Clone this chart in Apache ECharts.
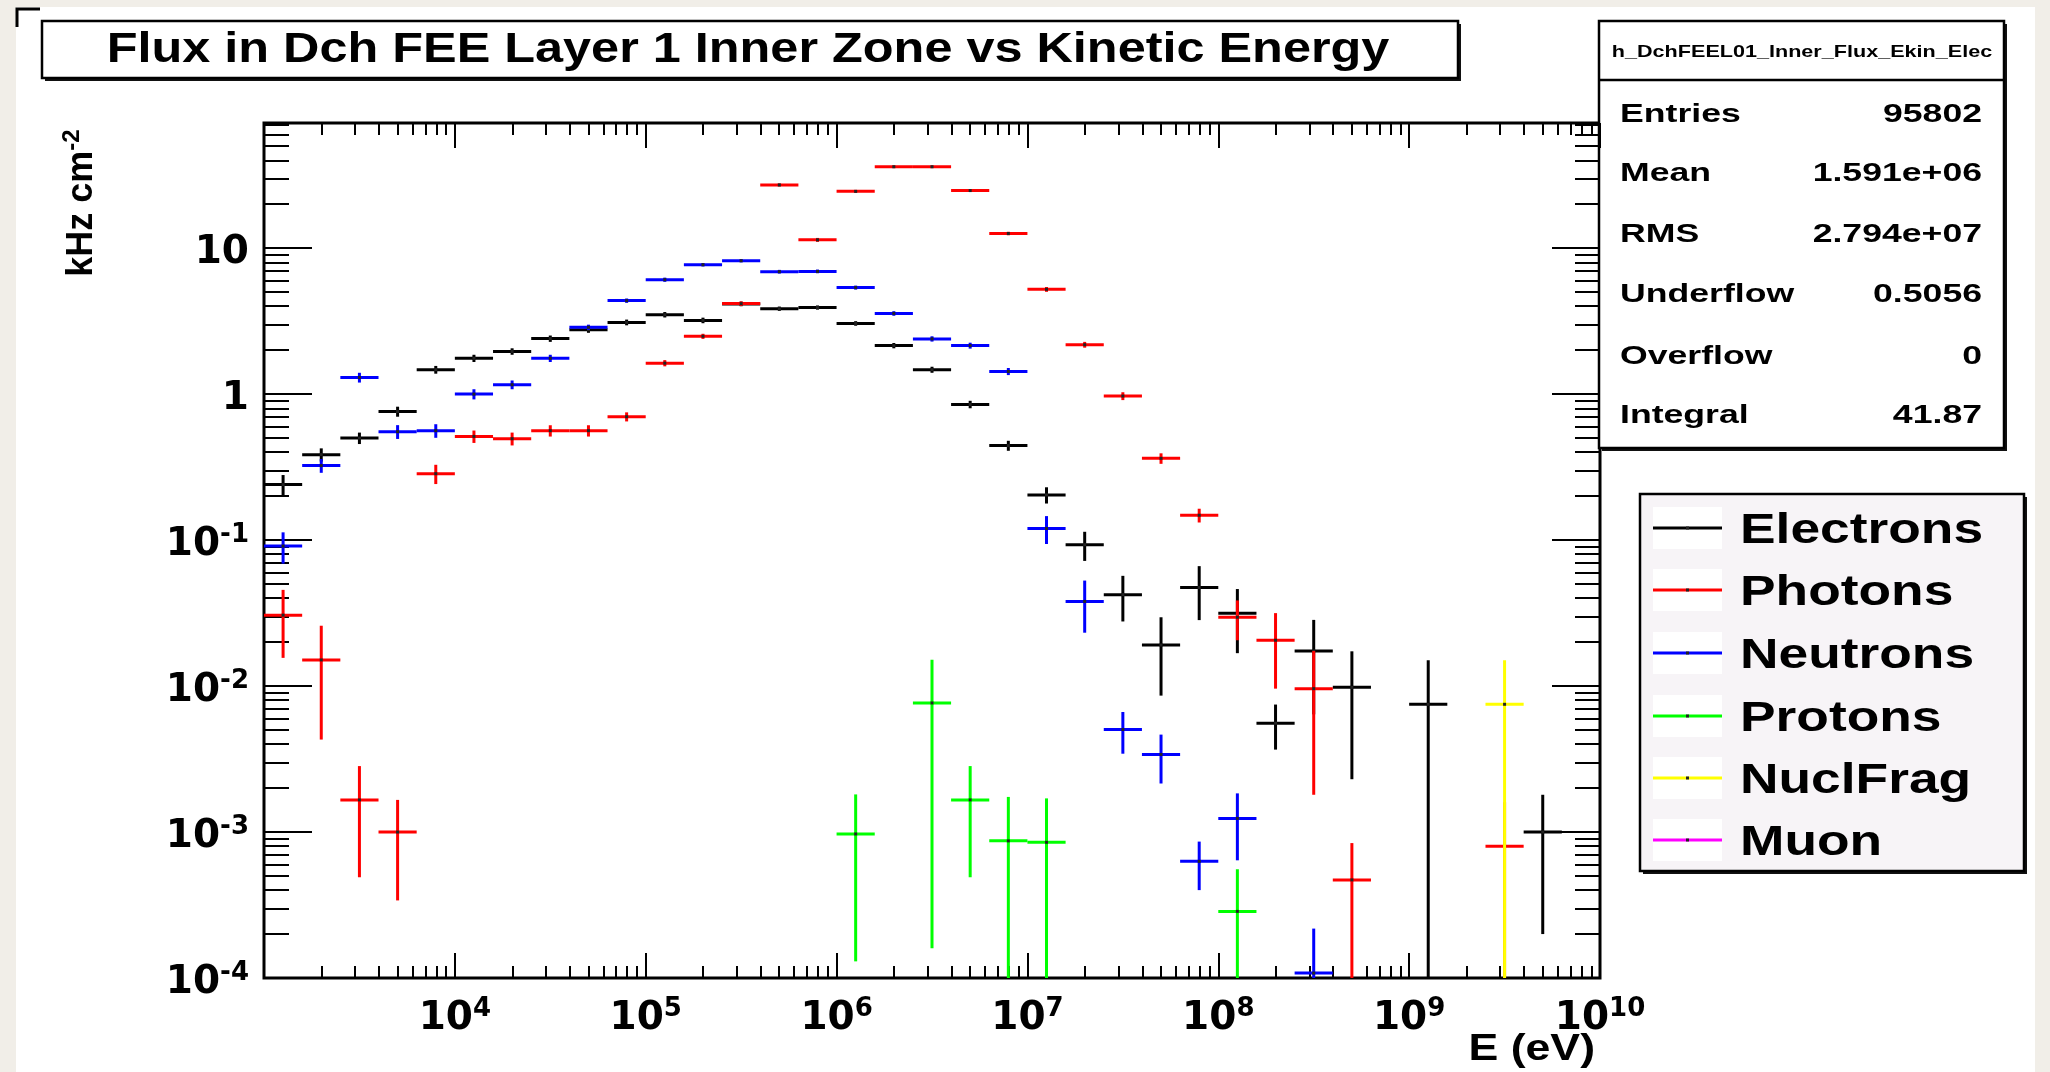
<!DOCTYPE html>
<html>
<head>
<meta charset="utf-8">
<script src="https://cdn.jsdelivr.net/npm/echarts@6/dist/echarts.min.js"></script>
<style>
  html, body { margin: 0; padding: 0; background: #f1eee8; }
  #chart { width: 2050px; height: 1072px; }
</style>
</head>
<body>
<div id="chart"></div>
<script>
// ---- Histogram binning: 5 log-uniform bins per decade, 1e3 .. 1e10 eV ----
const BIN_LOW_EXP = 3;
const BINS_PER_DECADE = 5;
const BIN_COUNT = 35;

// ---- Axis ranges ----
const X_MIN = 1e3, X_MAX = 1e10;
const Y_MIN = 1e-4, Y_MAX = 72;

// ---- Tick label values ----
const xMajorTicks = [1e3, 1e4, 1e5, 1e6, 1e7, 1e8, 1e9, 1e10];
const xLabelValues = [1e4, 1e5, 1e6, 1e7, 1e8, 1e9, 1e10];
const yMajorTicks = [1e-4, 1e-3, 1e-2, 1e-1, 1, 10];
const yLabelValues = [1e-4, 1e-3, 1e-2, 1e-1, 1, 10];

// ---- Flux per bin (kHz cm^-2), null = empty bin ----
const electrons = [0.24, 0.385, 0.50, 0.76, 1.47, 1.76, 1.96, 2.4, 2.76, 3.1,
  3.5, 3.2, 4.15, 3.85, 3.92, 3.05, 2.15, 1.47, 0.85, 0.444,
  0.204, 0.093, 0.0423, 0.0191, 0.0473, 0.0315, 0.00557, 0.0174, 0.0098, null,
  0.0075, null, null, 0.001, null];
const electronsErr = [0.039, 0.04, 0.045, 0.06, 0.09, 0.1, 0.1, 0.12, 0.13, 0.14,
  0.15, 0.14, 0.15, 0.13, 0.13, 0.11, 0.09, 0.07, 0.05, 0.035,
  0.026, 0.021, 0.0146, 0.0105, 0.019, 0.0147, 0.0019, 0.011, 0.0075, null,
  0.0075, null, null, 0.0008, null];

const photons = [0.0306, 0.0151, 0.00166, 0.001, 0.285, 0.513, 0.495, 0.562, 0.562, 0.70,
  1.63, 2.49, 4.17, 27.1, 11.4, 24.5, 36.1, 36.1, 24.8, 12.6,
  5.22, 2.18, 0.97, 0.363, 0.148, 0.0296, 0.0206, 0.0096, 0.00047, null,
  null, null, 0.0008, null, null];
const photonsErr = [0.015, 0.0108, 0.00117, 0.00066, 0.043, 0.05, 0.05, 0.05, 0.05, 0.05,
  0.08, 0.1, 0.15, 0.6, 0.35, 0.5, 0.6, 0.6, 0.5, 0.35,
  0.2, 0.1, 0.06, 0.03, 0.016, 0.009, 0.011, 0.0078, 0.00037, null,
  null, null, 0.0008, null, null];

const neutrons = [0.091, 0.324, 1.30, 0.553, 0.562, 1.0, 1.16, 1.76, 2.87, 4.37,
  6.08, 7.7, 8.2, 6.9, 6.93, 5.37, 3.57, 2.39, 2.15, 1.43,
  0.12, 0.038, 0.00504, 0.0034, 0.00063, 0.00124, null, 0.000108, null, null,
  null, null, null, null, null];
const neutronsErr = [0.022, 0.035, 0.1, 0.06, 0.06, 0.08, 0.08, 0.1, 0.12, 0.15,
  0.2, 0.2, 0.2, 0.2, 0.2, 0.17, 0.13, 0.1, 0.1, 0.08,
  0.026, 0.0148, 0.0016, 0.00125, 0.00023, 0.0006, null, 0.00011, null, null,
  null, null, null, null, null];

const protons = [null, null, null, null, null, null, null, null, null, null,
  null, null, null, null, null, 0.00097, null, 0.00766, 0.00166, 0.00087,
  0.00085, null, null, null, null, 0.000286, null, null, null, null,
  null, null, null, null, null];
const protonsErr = [null, null, null, null, null, null, null, null, null, null,
  null, null, null, null, null, 0.00084, null, 0.0075, 0.00117, 0.00087,
  0.00085, null, null, null, null, 0.00027, null, null, null, null,
  null, null, null, null, null];

const nuclFrag = [null, null, null, null, null, null, null, null, null, null,
  null, null, null, null, null, null, null, null, null, null,
  null, null, null, null, null, null, null, null, null, null,
  null, null, 0.0075, null, null];
const nuclFragErr = [null, null, null, null, null, null, null, null, null, null,
  null, null, null, null, null, null, null, null, null, null,
  null, null, null, null, null, null, null, null, null, null,
  null, null, 0.0075, null, null];

const muons = new Array(BIN_COUNT).fill(null);
const muonsErr = new Array(BIN_COUNT).fill(null);

const particleNames = ['Electrons', 'Photons', 'Neutrons', 'Protons', 'NuclFrag', 'Muon'];
const particleColors = ['#000000', '#ff0000', '#0000ff', '#00ff00', '#ffff00', '#ff00ff'];
const particleValues = [electrons, photons, neutrons, protons, nuclFrag, muons];
const particleErrors = [electronsErr, photonsErr, neutronsErr, protonsErr, nuclFragErr, muonsErr];

// ---- Stats box ----
const statsTitle = 'h_DchFEEL01_Inner_Flux_Ekin_Elec';
const statsLabels = ['Entries', 'Mean', 'RMS', 'Underflow', 'Overflow', 'Integral'];
const statsValues = ['95802', '1.591e+06', '2.794e+07', '0.5056', '0', '41.87'];

// ---------------------------------------------------------------
const binEdges = [];
for (let i = 0; i <= BIN_COUNT; i++) {
  binEdges.push(Math.pow(10, BIN_LOW_EXP + i / BINS_PER_DECADE));
}

function minorTicksBetween(lo, hi) {
  const out = [];
  for (let d = Math.floor(Math.log10(lo)); d <= Math.ceil(Math.log10(hi)); d++) {
    for (let m = 2; m <= 9; m++) {
      const v = m * Math.pow(10, d);
      if (v > lo && v < hi) out.push(v);
    }
  }
  return out;
}
const xMinorTicks = minorTicksBetween(X_MIN, X_MAX);
const yMinorTicks = minorTicksBetween(Y_MIN, Y_MAX);

function buildBins(values, errors) {
  const out = [];
  values.forEach((v, k) => {
    if (v == null) return;
    out.push([binEdges[k], binEdges[k + 1], v, errors[k] || 0]);
  });
  return out;
}

function binRenderer(color) {
  return function (params, api) {
    const lo = api.value(0), hi = api.value(1), v = api.value(2), e = api.value(3);
    const xc = Math.sqrt(lo * hi);
    const pL = api.coord([lo, v]);
    const pR = api.coord([hi, v]);
    const pC = api.coord([xc, v]);
    const pT = api.coord([xc, Math.min(v + e, Y_MAX)]);
    const pB = api.coord([xc, Math.max(v - e, Y_MIN)]);
    return {
      type: 'group',
      children: [
        { type: 'line', shape: { x1: pL[0], y1: pL[1], x2: pR[0], y2: pR[1] },
          style: { stroke: color, lineWidth: 3 } },
        { type: 'line', shape: { x1: pT[0], y1: pT[1], x2: pB[0], y2: pB[1] },
          style: { stroke: color, lineWidth: 3 } },
        { type: 'rect', shape: { x: pC[0] - 1.5, y: pC[1] - 1.5, width: 3, height: 3 },
          style: { fill: '#222' } }
      ]
    };
  };
}

function powerLabel(v) {
  const n = Math.round(Math.log10(v));
  if (n === 0) return '{b|1}';
  if (n === 1) return '{b|10}';
  return '{b|10}{e|' + n + '}';
}

const labelRich = {
  b: { fontFamily: 'DejaVu Sans', fontWeight: 'bold', fontSize: 39, color: '#000', lineHeight: 46 },
  e: { fontFamily: 'DejaVu Sans', fontWeight: 'bold', fontSize: 26, color: '#000', lineHeight: 24, verticalAlign: 'top' }
};

const tickLine = { color: '#000', width: 2 };

function xAxisDef(position, ticks, len, labels) {
  return {
    type: 'log', logBase: 10, min: X_MIN, max: X_MAX, gridIndex: 0, position,
    axisLine: { show: false }, splitLine: { show: false }, minorTick: { show: false },
    axisTick: { show: true, inside: true, length: len, customValues: ticks, lineStyle: tickLine },
    axisLabel: labels ? {
      show: true, customValues: labels, margin: 18, formatter: powerLabel,
      showMinLabel: true, showMaxLabel: true, rich: labelRich
    } : { show: false }
  };
}
function yAxisDef(position, ticks, len, labels) {
  return {
    type: 'log', logBase: 10, min: Y_MIN, max: Y_MAX, gridIndex: 0, position,
    axisLine: { show: false }, splitLine: { show: false }, minorTick: { show: false },
    axisTick: { show: true, inside: true, length: len, customValues: ticks, lineStyle: tickLine },
    axisLabel: labels ? {
      show: true, customValues: labels, margin: 15, formatter: powerLabel,
      padding: [10, 0, 0, 0], align: 'right',
      showMinLabel: true, showMaxLabel: true, rich: labelRich
    } : { show: false }
  };
}

const series = [];
for (let i = 0; i < 5; i++) {
  series.push({
    type: 'custom', name: particleNames[i], coordinateSystem: 'cartesian2d',
    xAxisIndex: 0, yAxisIndex: 0, silent: true, clip: true, z: 3 + i,
    encode: { x: [0, 1], y: 2 },
    renderItem: binRenderer(particleColors[i]),
    data: buildBins(particleValues[i], particleErrors[i])
  });
}

// ---- Decorations: canvas, title box, stats box, legend ----
const boldFont = 'Liberation Sans';
const graphics = [
  { type: 'rect', z: -10, shape: { x: 16, y: 7, width: 2019, height: 1065 }, style: { fill: '#ffffff' } },
  { type: 'polyline', shape: { points: [[40, 9], [17, 9], [17, 27]] }, style: { stroke: '#000', lineWidth: 3, fill: null } },
  // title
  { type: 'rect', shape: { x: 45, y: 24, width: 1416, height: 57 }, style: { fill: '#111' } },
  { type: 'rect', shape: { x: 42, y: 21, width: 1416, height: 57 }, style: { fill: '#fff', stroke: '#000', lineWidth: 2.5 } },
  { type: 'text', x: 748, y: 50, scaleX: 1.2,
    style: { text: 'Flux in Dch FEE Layer 1 Inner Zone vs Kinetic Energy', fontFamily: boldFont, fontWeight: 'bold',
      fontSize: 42, fill: '#000', align: 'center', verticalAlign: 'middle', textAlign: 'center', textVerticalAlign: 'middle' } },
  // stats box
  { type: 'rect', shape: { x: 1602, y: 24, width: 405, height: 427 }, style: { fill: '#111' } },
  { type: 'rect', shape: { x: 1599, y: 21, width: 405, height: 427 }, style: { fill: '#fff', stroke: '#000', lineWidth: 2.5 } },
  { type: 'line', shape: { x1: 1599, y1: 80, x2: 2004, y2: 80 }, style: { stroke: '#000', lineWidth: 2.5 } },
  { type: 'text', x: 1802, y: 52, scaleX: 1.27,
    style: { text: statsTitle, fontFamily: boldFont, fontWeight: 'bold', fontSize: 17, fill: '#000',
      align: 'center', verticalAlign: 'middle', textAlign: 'center', textVerticalAlign: 'middle' } },
  // axis titles
  { type: 'text', x: 1595, y: 1050, scaleX: 1.24,
    style: { text: 'E (eV)', fontFamily: boldFont, fontWeight: 'bold', fontSize: 36, fill: '#000',
      align: 'right', verticalAlign: 'middle', textAlign: 'right', textVerticalAlign: 'middle' } },
  { type: 'text', x: 82, y: 203, rotation: Math.PI / 2,
    style: { text: '{a|kHz cm}{s|-2}', fill: '#000', align: 'center', verticalAlign: 'middle',
      textAlign: 'center', textVerticalAlign: 'middle',
      rich: {
        a: { fontFamily: boldFont, fontWeight: 'bold', fontSize: 36, lineHeight: 44, fill: '#000' },
        s: { fontFamily: boldFont, fontWeight: 'bold', fontSize: 24, lineHeight: 24, verticalAlign: 'top', fill: '#000' }
      } } }
];

const statsRowY = [115, 174, 235, 295, 357, 416];
statsLabels.forEach((lab, i) => {
  graphics.push({ type: 'text', x: 1620, y: statsRowY[i], scaleX: 1.37,
    style: { text: lab, fontFamily: boldFont, fontWeight: 'bold', fontSize: 26, fill: '#000',
      align: 'left', verticalAlign: 'middle', textAlign: 'left', textVerticalAlign: 'middle' } });
  graphics.push({ type: 'text', x: 1982, y: statsRowY[i], scaleX: 1.37,
    style: { text: statsValues[i], fontFamily: boldFont, fontWeight: 'bold', fontSize: 26, fill: '#000',
      align: 'right', verticalAlign: 'middle', textAlign: 'right', textVerticalAlign: 'middle' } });
});

// legend
graphics.push({ type: 'rect', shape: { x: 1643, y: 497, width: 384, height: 377 }, style: { fill: '#111' } });
graphics.push({ type: 'rect', shape: { x: 1640, y: 494, width: 384, height: 377 },
  style: { fill: '#f7f4f7', stroke: '#000', lineWidth: 2.5 } });
const legendRowY = [528, 590, 653, 716, 778, 840];
particleNames.forEach((name, i) => {
  const cy = legendRowY[i];
  graphics.push({ type: 'rect', shape: { x: 1653, y: cy - 21, width: 69, height: 42 }, style: { fill: '#fff' } });
  graphics.push({ type: 'line', shape: { x1: 1653, y1: cy, x2: 1722, y2: cy },
    style: { stroke: particleColors[i], lineWidth: 3 } });
  graphics.push({ type: 'rect', shape: { x: 1686, y: cy - 1.5, width: 3, height: 3 }, style: { fill: '#222' } });
  graphics.push({ type: 'text', x: 1740, y: cy + 3, scaleX: 1.27,
    style: { text: name, fontFamily: boldFont, fontWeight: 'bold', fontSize: 42, fill: '#000',
      align: 'left', verticalAlign: 'middle', textAlign: 'left', textVerticalAlign: 'middle' } });
});

const chart = echarts.init(document.getElementById('chart'), null, { renderer: 'canvas' });
chart.setOption({
  animation: false,
  backgroundColor: '#f1eee8',
  grid: { left: 264, top: 123, width: 1336, height: 855, show: true,
    borderColor: '#000', borderWidth: 3, backgroundColor: '#fff' },
  xAxis: [
    xAxisDef('bottom', xMajorTicks, 25, xLabelValues),
    xAxisDef('bottom', xMinorTicks, 12, null),
    xAxisDef('top', xMajorTicks, 25, null),
    xAxisDef('top', xMinorTicks, 12, null)
  ],
  yAxis: [
    yAxisDef('left', yMajorTicks, 48, yLabelValues),
    yAxisDef('left', yMinorTicks, 25, null),
    yAxisDef('right', yMajorTicks, 48, null),
    yAxisDef('right', yMinorTicks, 25, null)
  ],
  graphic: { elements: graphics },
  series
});
</script>
</body>
</html>
